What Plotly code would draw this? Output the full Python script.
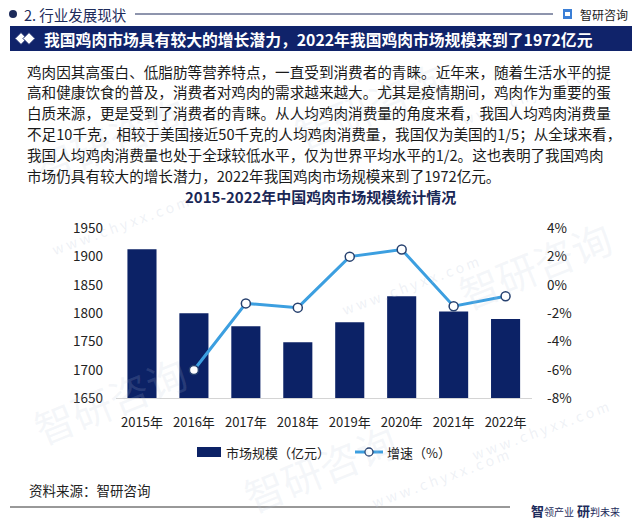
import plotly.graph_objects as go

# ---------------- data ----------------
years = ["2015年", "2016年", "2017年", "2018年", "2019年", "2020年", "2021年", "2022年"]
market_size = [1913, 1800, 1777, 1749, 1784, 1830, 1803, 1790]          # 亿元
growth_years = ["2016年", "2017年", "2018年", "2019年", "2020年", "2021年", "2022年"]
growth = [-6.0, -1.3, -1.6, 2.0, 2.5, -1.5, -0.8]                          # %
left_ticks = [1650, 1700, 1750, 1800, 1850, 1900, 1950]
right_ticks = [-8, -6, -4, -2, 0, 2, 4]
right_tick_labels = ["-8%", "-6%", "-4%", "-2%", "0%", "2%", "4%"]

header_text = "2. 行业发展现状"
banner_text = "我国鸡肉市场具有较大的增长潜力，2022年我国鸡肉市场规模来到了1972亿元"
paragraph = [
    "鸡肉因其高蛋白、低脂肪等营养特点，一直受到消费者的青睐。近年来，随着生活水平的提",
    "高和健康饮食的普及，消费者对鸡肉的需求越来越大。尤其是疫情期间，鸡肉作为重要的蛋",
    "白质来源，更是受到了消费者的青睐。从人均鸡肉消费量的角度来看，我国人均鸡肉消费量",
    "不足10千克，相较于美国接近50千克的人均鸡肉消费量，我国仅为美国的1/5；从全球来看，",
    "我国人均鸡肉消费量也处于全球较低水平，仅为世界平均水平的1/2。这也表明了我国鸡肉",
    "市场仍具有较大的增长潜力，2022年我国鸡肉市场规模来到了1972亿元。",
]
chart_title = "2015-2022年中国鸡肉市场规模统计情况"
legend_names = ["市场规模（亿元）", "增速（%）"]
source_text = "资料来源：智研咨询"

# ---------------- style ----------------
W, H = 640, 526
FONT = "Noto Sans CJK SC, Noto Sans, sans-serif"
NAVY = "#0c2266"
BANNER = "#10236a"
LINE_BLUE = "#3c9fe0"
DARK = "#1d2b5b"


def px(x):
    return x / W


def py(y):
    return 1 - y / H


def note(x, y, text, size, color="#222", xanchor="left", **kw):
    d = dict(x=px(x), y=py(y), xref="paper", yref="paper", xanchor=xanchor,
             yanchor="middle", text=text, showarrow=False,
             font=dict(family=FONT, size=size, color=color))
    d.update(kw)
    return d


fig = go.Figure()

fig.add_trace(go.Bar(
    x=years, y=market_size, name=legend_names[0],
    marker=dict(color=NAVY, line=dict(width=0)),
    yaxis="y", showlegend=False,
))
fig.add_trace(go.Scatter(
    x=growth_years, y=growth, name=legend_names[1], mode="lines+markers",
    line=dict(color=LINE_BLUE, width=3),
    marker=dict(symbol="circle", size=9, color="white",
                line=dict(color="#27416f", width=1.5)),
    yaxis="y2", showlegend=False,
))

annotations = []
shapes = []

# watermarks (kept fully inside the page)
for (x, y) in [(110, 140), (320, 468), (535, 265), (370, 105), (110, 400)]:
    annotations.append(note(x, y, "智研咨询", 40, "rgba(190,200,218,0.16)",
                            xanchor="center", textangle=-22))
for (x, y) in [(120, 225), (410, 285), (530, 95), (440, 478), (540, 430)]:
    annotations.append(note(x, y, "w w w . c h y x x . c o m", 14, "rgba(190,200,218,0.25)",
                            xanchor="center", textangle=-20))

# header
shapes.append(dict(type="circle", xref="paper", yref="paper",
                   x0=px(9), x1=px(17), y0=py(18), y1=py(10),
                   fillcolor=DARK, line=dict(width=0)))
annotations.append(note(22, 14.5, header_text, 14.5, DARK))
shapes.append(dict(type="line", xref="paper", yref="paper",
                   x0=px(135), x1=px(553), y0=py(14), y1=py(14),
                   line=dict(color=DARK, width=1)))
# logo
shapes.append(dict(type="rect", xref="paper", yref="paper",
                   x0=px(563), x1=px(572), y0=py(19), y1=py(9),
                   fillcolor="#3b7fd6", line=dict(width=0)))
shapes.append(dict(type="rect", xref="paper", yref="paper",
                   x0=px(565), x1=px(570), y0=py(16), y1=py(12),
                   fillcolor="white", line=dict(width=0)))
annotations.append(note(578, 14.5, "智研咨询", 12, "#222"))

# banner
shapes.append(dict(type="rect", xref="paper", yref="paper",
                   x0=px(10), x1=px(632), y0=py(51), y1=py(26),
                   fillcolor=BANNER, line=dict(width=0)))
for cx in (21, 29):
    shapes.append(dict(type="path", xref="paper", yref="paper",
                       path=f"M {px(cx-6)},{py(38.5)} L {px(cx)},{py(32.5)} L {px(cx+6)},{py(38.5)} L {px(cx)},{py(44.5)} Z",
                       fillcolor="white", line=dict(color=BANNER, width=1)))
annotations.append(note(42, 39, f"<b>{banner_text}</b>", 15.8, "white"))

# paragraph
para_y = [71, 92, 112.5, 133.5, 154.5, 175]
for t, y in zip(paragraph, para_y):
    annotations.append(note(25, y, t, 14.6, "#1a1a1a"))

# chart title
annotations.append(note(320.5, 197, f"<b>{chart_title}</b>", 15, "#1a2756", xanchor="center"))

# legend (manual)
shapes.append(dict(type="rect", xref="paper", yref="paper",
                   x0=px(197), x1=px(221), y0=py(457), y1=py(447),
                   fillcolor=NAVY, line=dict(width=0)))
annotations.append(note(224, 452, legend_names[0], 13, "#222"))
shapes.append(dict(type="line", xref="paper", yref="paper",
                   x0=px(355), x1=px(383), y0=py(452), y1=py(452),
                   line=dict(color=LINE_BLUE, width=3)))
shapes.append(dict(type="circle", xref="paper", yref="paper",
                   x0=px(365), x1=px(373), y0=py(456), y1=py(448),
                   fillcolor="white", line=dict(color="#27416f", width=1.3)))
annotations.append(note(385, 452, legend_names[1], 13, "#222"))

# footer
annotations.append(note(27, 490, source_text, 13.5, "#222"))
shapes.append(dict(type="line", xref="paper", yref="paper",
                   x0=px(10), x1=px(510), y0=py(507), y1=py(507),
                   line=dict(color="#333", width=1)))
annotations.append(note(622, 510,
                        "<b>智</b><span style='font-size:10px'>领产业</span> <b>研</b><span style='font-size:10px'>判未来</span>",
                        13, DARK, xanchor="right"))

fig.update_layout(
    width=W, height=H, autosize=False,
    margin=dict(l=0, r=0, t=0, b=0, pad=0, autoexpand=False),
    paper_bgcolor="white", plot_bgcolor="rgba(0,0,0,0)",
    font=dict(family=FONT, color="#222"),
    bargap=0.44,
    showlegend=False,
    xaxis=dict(domain=[px(116), px(532)], type="category", automargin=False,
               showgrid=False, zeroline=False, showline=True, linecolor="#d4d4d4", linewidth=1,
               ticks="", tickfont=dict(family=FONT, size=13, color="#222"),
               ticklabelstandoff=12, fixedrange=True),
    yaxis=dict(domain=[1 - 398.3 / H, 1 - 228.3 / H], range=[1650, 1950], automargin=False,
               tickmode="array", tickvals=left_ticks, showgrid=False, zeroline=False, showline=False,
               ticks="", tickfont=dict(family=FONT, size=13.5, color="#222"),
               ticklabelstandoff=12, fixedrange=True),
    yaxis2=dict(domain=[1 - 398.3 / H, 1 - 228.3 / H], range=[-8, 4], overlaying="y",
                side="right", anchor="x", automargin=False,
                tickmode="array", tickvals=right_ticks, ticktext=right_tick_labels,
                showgrid=False, zeroline=False, showline=False, ticks="",
                tickfont=dict(family=FONT, size=13.5, color="#222"),
                ticklabelstandoff=14, fixedrange=True),
    shapes=shapes,
    annotations=annotations,
)

fig.write_html("out.html", config={"displayModeBar": False},
               post_script="document.body.style.margin='0';document.body.style.overflow='hidden';")
